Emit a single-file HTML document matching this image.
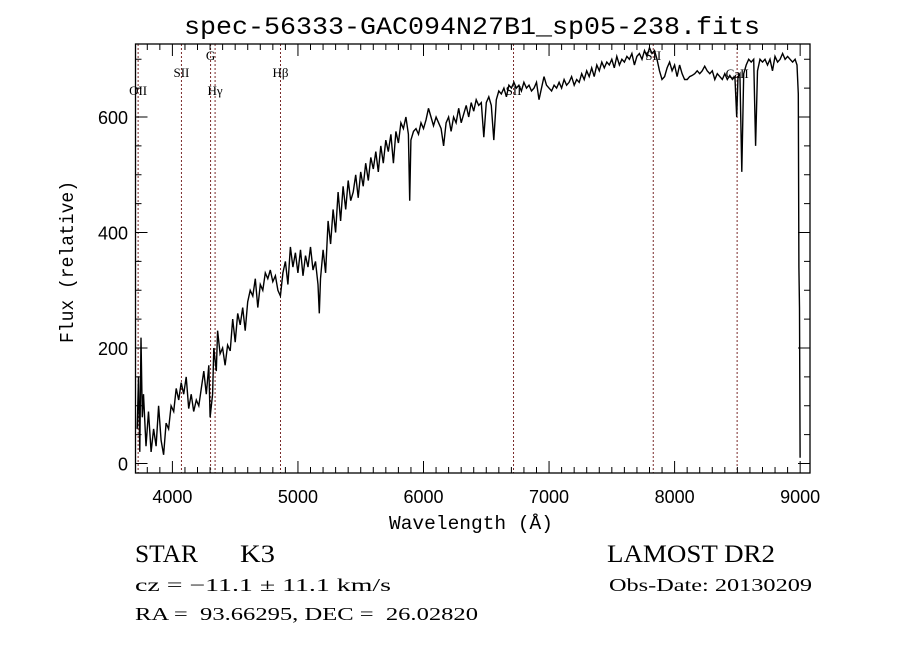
<!DOCTYPE html>
<html><head><meta charset="utf-8"><style>
html,body{margin:0;padding:0;background:#fff;width:900px;height:649px;overflow:hidden}
svg{display:block}
</style></head><body>
<svg id="chart" width="900" height="649" viewBox="0 0 900 649" xmlns="http://www.w3.org/2000/svg">
<rect x="0" y="0" width="900" height="649" fill="#fff"/>
<text x="472" y="34" text-anchor="middle" font-family="Liberation Mono, monospace" font-size="25" textLength="576" lengthAdjust="spacingAndGlyphs">spec-56333-GAC094N27B1_sp05-238.fits</text>
<g id="lines"></g>
<g id="ticks"></g>
<path id="spec" fill="none" stroke="#000" stroke-width="1.4" stroke-linejoin="miter"/>
<rect x="135.5" y="44" width="674.5" height="429" fill="none" stroke="#000" stroke-width="1.3"/>
<text x="471" y="529" text-anchor="middle" font-family="Liberation Mono, monospace" font-size="19" textLength="164" lengthAdjust="spacingAndGlyphs">Wavelength (Å)</text>
<text transform="translate(73,262) rotate(-90)" text-anchor="middle" font-family="Liberation Mono, monospace" font-size="19" textLength="162" lengthAdjust="spacingAndGlyphs">Flux (relative)</text>
<text x="135" y="562" font-family="Liberation Serif, serif" font-size="25" textLength="63" lengthAdjust="spacingAndGlyphs">STAR</text>
<text x="240" y="562" font-family="Liberation Serif, serif" font-size="25" textLength="35" lengthAdjust="spacingAndGlyphs">K3</text>
<text x="607" y="562" font-family="Liberation Serif, serif" font-size="25" textLength="168" lengthAdjust="spacingAndGlyphs">LAMOST DR2</text>
<text x="135" y="591" font-family="Liberation Serif, serif" font-size="18" textLength="256" lengthAdjust="spacingAndGlyphs">cz = −11.1 ± 11.1 km/s</text>
<text x="609" y="591" font-family="Liberation Serif, serif" font-size="18" textLength="203" lengthAdjust="spacingAndGlyphs">Obs-Date: 20130209</text>
<text x="135" y="620" font-family="Liberation Serif, serif" font-size="18" textLength="343" lengthAdjust="spacingAndGlyphs" xml:space="preserve">RA =  93.66295, DEC =  26.02820</text>
</svg>
<script>
const wavelengths=[3720,3730,3740,3750,3760,3770,3790,3810,3830,3850,3870,3890,3910,3930,3950,3970,3990,4010,4030,4050,4070,4090,4110,4130,4150,4170,4190,4210,4230,4250,4270,4290,4300,4320,4330,4350,4360,4380,4400,4420,4440,4460,4480,4500,4520,4540,4560,4580,4600,4620,4640,4660,4680,4700,4720,4740,4760,4780,4800,4820,4840,4860,4880,4900,4920,4940,4960,4980,5000,5020,5040,5060,5080,5100,5120,5140,5160,5170,5180,5200,5220,5240,5260,5280,5300,5320,5340,5360,5380,5400,5420,5440,5460,5480,5500,5520,5540,5560,5580,5600,5620,5640,5660,5680,5700,5720,5740,5760,5780,5800,5820,5840,5860,5880,5890,5900,5920,5940,5960,5980,6000,6020,6040,6060,6080,6100,6120,6140,6160,6180,6200,6220,6240,6260,6280,6300,6320,6340,6360,6380,6400,6420,6440,6460,6480,6500,6520,6540,6560,6580,6600,6620,6640,6660,6680,6700,6720,6740,6760,6780,6800,6820,6840,6860,6880,6900,6920,6940,6960,6980,7000,7020,7040,7060,7080,7100,7120,7140,7160,7180,7200,7220,7240,7260,7280,7300,7320,7340,7360,7380,7400,7420,7440,7460,7480,7500,7520,7540,7560,7580,7600,7620,7640,7660,7680,7700,7720,7740,7760,7780,7800,7820,7840,7860,7880,7900,7920,7940,7960,7980,8000,8020,8040,8060,8080,8100,8120,8140,8160,8180,8200,8220,8240,8260,8280,8300,8320,8340,8360,8380,8400,8420,8440,8460,8480,8495,8505,8520,8535,8550,8570,8590,8610,8630,8645,8660,8680,8700,8720,8740,8760,8780,8800,8820,8840,8860,8880,8900,8920,8940,8960,8975,8985,8990,8995,9000];
const fluxes=[60,150,20,218,80,120,30,90,20,60,30,100,40,15,70,60,100,90,130,110,140,120,150,95,120,90,110,100,130,160,120,170,80,120,200,160,230,190,200,170,205,195,250,210,260,240,270,230,280,300,290,320,270,310,300,330,320,335,315,325,300,290,330,350,310,375,340,365,330,370,325,360,340,375,335,350,310,260,320,370,330,420,380,440,400,470,420,480,440,490,455,470,500,460,505,480,520,490,530,510,540,505,550,520,560,540,570,520,575,555,590,580,600,570,455,560,575,580,570,590,580,595,615,600,585,600,590,580,550,590,600,575,600,590,615,590,605,620,600,625,610,630,620,625,565,625,635,620,560,630,645,640,650,635,655,650,660,650,655,645,660,650,655,645,650,660,630,650,670,655,650,645,655,650,660,650,665,655,660,670,655,665,660,675,665,680,670,685,670,690,680,695,685,695,690,700,685,705,690,700,695,705,700,710,690,705,710,700,715,705,720,710,715,700,680,665,670,685,695,680,690,670,690,675,665,665,670,672,675,680,675,680,688,680,675,680,665,675,670,665,675,665,672,665,670,600,670,675,505,675,690,700,695,700,550,680,700,695,700,690,700,680,705,695,700,710,700,705,700,695,700,690,640,340,270,10];
const lineWaves=[3727,4072,4304,4340,4861,6717,7830,8498];
const lineLabels=["OII","SII","G","Hγ","Hβ","SII","SII","CaII"];
const lineLabelY=[95,77,60,95,77,95,60,78];
const xTickLabels=["4000","5000","6000","7000","8000","9000"];
const yTickLabels=["0","200","400","600"];

const NS="http://www.w3.org/2000/svg";
const X0=135.5,X1=810,Y0=44,Y1=473;
function xs(w){return 172.4+(w-4000)*0.12555;}
function ys(f){return 463.5-f*0.5775;}
function mk(tag,attrs,parent){const e=document.createElementNS(NS,tag);for(const k in attrs)e.setAttribute(k,attrs[k]);parent.appendChild(e);return e;}

const lg=document.getElementById('lines');
lineWaves.forEach((w,i)=>{
  const l=mk('line',{x1:xs(w),x2:xs(w),y1:Y0,y2:Y1,stroke:'#7a2a2a','stroke-width':1,'stroke-dasharray':'2,2'},lg);
  
  
  const t=mk('text',{x:xs(w),y:lineLabelY[i],'text-anchor':'middle','font-family':'Liberation Serif, serif','font-size':13},lg);
  t.textContent=lineLabels[i];
  
  
});

const tg=document.getElementById('ticks');
for(let w=3800;w<=9000;w+=100){
  const major=(w%1000===0);
  const len=major?12:6;
  const x=xs(w);
  const a=mk('line',{x1:x,x2:x,y1:Y1,y2:Y1-len,stroke:'#000','stroke-width':1},tg);
  
  
  const b=mk('line',{x1:x,x2:x,y1:Y0,y2:Y0+len,stroke:'#000','stroke-width':1},tg);
  
  
}
xTickLabels.forEach(s=>{
  const t=mk('text',{x:xs(+s),y:503,'text-anchor':'middle','font-family':'Liberation Sans, sans-serif','font-size':18},tg);
  t.textContent=s;
  
  
});
for(let f=0;f<=700;f+=50){
  const major=(f%200===0);
  const len=major?12:6;
  const y=ys(f);
  const a=mk('line',{x1:X0,x2:X0+len,y1:y,y2:y,stroke:'#000','stroke-width':1},tg);
  
  
  const b=mk('line',{x1:X1,x2:X1-len,y1:y,y2:y,stroke:'#000','stroke-width':1},tg);
  
  
}
yTickLabels.forEach(s=>{
  const t=mk('text',{x:128,y:ys(+s)+7,'text-anchor':'end','font-family':'Liberation Sans, sans-serif','font-size':18},tg);
  t.textContent=s;
  
  
});

let d='';
wavelengths.forEach((w,i)=>{
  const x=xs(w),y=Math.max(Y0,Math.min(Y1,ys(fluxes[i])));
  d+=(i?'L':'M')+x.toFixed(1)+' '+y.toFixed(1);
});
document.getElementById('spec').setAttribute('d',d);
</script>
</body></html>
